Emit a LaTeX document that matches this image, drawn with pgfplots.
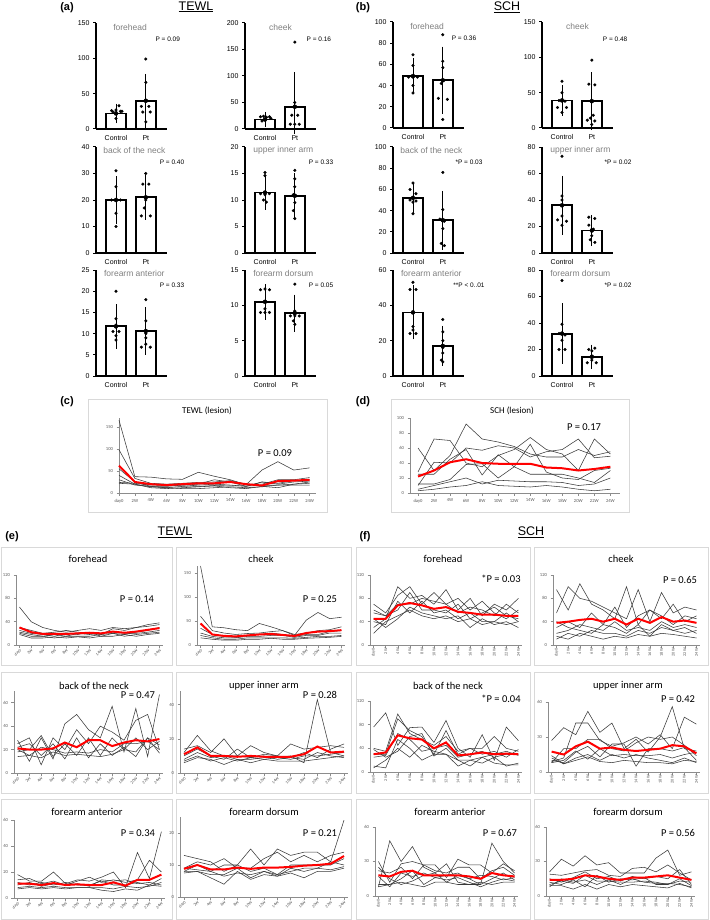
\documentclass[border=0pt]{standalone}
\usepackage{pgfplots}
\usepackage{pgfplotstable}
\pgfplotsset{compat=1.18}
\usepackage{fontspec}
\setmainfont{Liberation Sans}
\newfontfamily\calfont{Carlito}
\definecolor{axg}{HTML}{8C8C8C}
\definecolor{tkg}{HTML}{595959}
\definecolor{boxg}{HTML}{D9D9D9}
\definecolor{ttg}{HTML}{808080}
\definecolor{glc}{HTML}{3A3A3A}
\definecolor{rlc}{HTML}{FF0000}

% ---------- line-panel data (rows = series, transposed below) ----------
\pgfplotstableread{
name c0 c1 c2 c3 c4 c5 c6 c7 c8 c9 c10 c11 c12
s1 165 37 36 32 31 47 38 30 19 52 71 52 57
s2 98 33 22 20 22 24 25 28 20 20 30 30 35
s3 55 25 15 15 18 20 30 25 15 25 22 28 30
s4 30 18 15 12 15 18 20 18 15 25 20 25 27
s5 24 22 18 17 16 15 17 16 16 17 18 18 18
s6 22 20 14 12 10 10 12 14 12 14 18 20 22
s7 40 20 12 10 12 14 16 12 10 15 12 20 25
m 62 25 20 18 20 22 22 25 20 17 27 28 30
}\tmp
\pgfplotstabletranspose[colnames from=name]{\tC}{\tmp}
\pgfplotstableread{
name c0 c1 c2 c3 c4 c5 c6 c7 c8 c9 c10 c11 c12
s1 28 72 70 40 35 50 58 74 58 52 30 72 52
s2 60 30 50 92 72 68 62 52 48 48 58 50 55
s3 10 41 40 60 57 63 60 48 55 58 72 47 49
s4 25 25 45 58 24 51 35 65 28 20 18 30 33
s5 12 12 18 38 39 20 35 25 25 25 20 14 30
s6 5 10 15 20 12 17 16 15 15 14 10 12 20
s7 3 5 8 10 15 10 9 8 10 8 5 3 5
m 22 30 41 45 40 39 39 39 34 33 30 32 35
}\tmp
\pgfplotstabletranspose[colnames from=name]{\tD}{\tmp}
\pgfplotstableread{
name c0 c1 c2 c3 c4 c5 c6 c7 c8 c9 c10 c11 c12
s1 65 40 30 25 22 25 28 25 30 28 30 32 35
s2 30 25 20 22 25 22 20 18 28 25 30 35 38
s3 25 20 18 15 20 18 22 15 20 18 22 25 30
s4 22 18 15 18 15 20 18 20 22 20 20 22 25
s5 20 15 15 12 15 15 15 18 20 15 18 20 22
s6 18 12 12 14 12 14 12 15 15 18 15 18 20
m 30 22 19 19 19 20 21 20 23 21 23 26 29
}\tmp
\pgfplotstabletranspose[colnames from=name]{\tEfo}{\tmp}
\pgfplotstableread{
name c0 c1 c2 c3 c4 c5 c6 c7 c8 c9 c10 c11 c12
s1 165 38 36 32 30 45 38 30 20 52 68 55 58
s2 60 30 25 22 24 25 28 30 22 25 30 32 38
s3 35 22 18 16 20 22 25 22 18 22 22 28 30
s4 25 18 15 15 18 18 20 20 16 20 20 25 25
s5 20 15 12 12 15 15 15 15 14 16 18 18 20
s6 15 12 10 10 12 12 14 12 12 14 15 16 18
m 45 22 19 18 20 22 23 21 19 25 28 29 31
}\tmp
\pgfplotstabletranspose[colnames from=name]{\tEch}{\tmp}
\pgfplotstableread{
name c0 c1 c2 c3 c4 c5 c6 c7 c8 c9 c10 c11 c12
s1 28 10 30 12 42 50 37 30 57 18 55 14 67
s2 25 30 7 30 20 37 25 40 35 28 45 50 20
s3 18 20 32 14 25 15 30 15 30 20 30 20 27
s4 14 15 22 20 17 18 17 20 18 25 25 27 20
s5 20 15 13 18 15 16 15 14 16 20 18 30 17
s6 22 25 15 25 12 30 13 25 15 22 14 30 24
m 21 20 20 21 26 22 28 28 23 26 28 27 29
}\tmp
\pgfplotstabletranspose[colnames from=name]{\tEne}{\tmp}
\pgfplotstableread{
name c0 c1 c2 c3 c4 c5 c6 c7 c8 c9 c10 c11 c12
s1 12 22 13 10 10 9 8 9 10 6 43 12 10
s2 14 16 12 20 10 16 12 10 17 14 15 16 15
s3 10 14 10 8 14 9 11 10 9 12 9 14 17
s4 8 12 9 10 8 8 9 9 8 10 10 11 12
s5 6 9 8 5 8 6 8 7 7 7 8 9 10
s6 7 10 7 9 7 9 10 8 9 8 12 10 9
m 11 15 10 10 9.5 10 9.5 9.5 9.5 11 15.5 12 12.5
}\tmp
\pgfplotstabletranspose[colnames from=name]{\tEup}{\tmp}
\pgfplotstableread{
name c0 c1 c2 c3 c4 c5 c6 c7 c8 c9 c10 c11 c12
s1 18 13 13 20 11 14 13 16 20 8 35 15 51
s2 14 15 11 13 10 13 16 12 14 12 14 29 20
s3 12 10 12 10 12 10 10 13 10 10 12 10 15
s4 8 9 8 9 8 8 8 8 7 9 8 9 12
s5 7 8 7 8 7 8 8 6 5 7 6 10 9
s6 10 12 9 11 10 11 9 14 13 14 11 12 10
m 11 11 10 11.5 10 10.5 10 10 12 9.5 14 14 18
}\tmp
\pgfplotstabletranspose[colnames from=name]{\tEan}{\tmp}
\pgfplotstableread{
name c0 c1 c2 c3 c4 c5 c6 c7 c8 c9 c10 c11 c12
s1 13 12 11 8 10 15 10 15 13 14 14 11 24
s2 9 11 10 12 9 9 12 14 11 13 11 13 14
s3 8 10 8 10 10 8 9 7 10 10 10 10 12
s4 8 8 7 7 9 6 8 7 8 9 9 11 10
s5 7.5 8 6 4 8 5.5 7 6.5 7.5 6 8 8 9
s6 9 8.5 8 6.5 7.5 7 8 6.5 9 8 9 8.5 9.5
m 8.8 10 8.6 8.6 9.2 8.8 9.2 9.2 9.4 9.8 10 10.4 12.8
}\tmp
\pgfplotstabletranspose[colnames from=name]{\tEdo}{\tmp}
\pgfplotstableread{
name c0 c1 c2 c3 c4 c5 c6 c7 c8 c9 c10 c11 c12
s1 30 45 100 80 85 70 95 60 80 50 70 60 80
s2 70 55 85 100 70 90 70 80 60 75 55 45 60
s3 55 50 60 90 60 60 55 70 45 55 65 50 45
s4 40 35 75 55 75 55 60 45 55 40 40 55 40
s5 20 40 50 60 50 45 50 40 45 35 40 35 40
s6 45 30 45 65 55 50 45 50 30 45 35 40 30
s7 60 50 70 70 80 75 70 55 65 60 50 70 55
m 45 45 68 72 68 62 65 57 55 52 52 50 50
}\tmp
\pgfplotstabletranspose[colnames from=name]{\tFfo}{\tmp}
\pgfplotstableread{
name c0 c1 c2 c3 c4 c5 c6 c7 c8 c9 c10 c11 c12
s1 95 60 105 70 60 45 100 35 60 45 70 40 50
s2 55 100 80 75 65 55 45 95 40 90 55 65 60
s3 30 40 30 55 35 65 30 50 60 50 35 50 45
s4 20 25 35 30 25 40 25 30 25 40 30 35 30
s5 10 20 15 25 20 20 15 25 20 30 25 20 25
s6 40 30 25 20 35 30 20 35 15 35 25 30 20
s7 15 10 20 15 10 15 12 18 15 20 18 15 12
m 38 40 43 45 40 45 35 45 38 48 40 42 38
}\tmp
\pgfplotstabletranspose[colnames from=name]{\tFch}{\tmp}
\pgfplotstableread{
name c0 c1 c2 c3 c4 c5 c6 c7 c8 c9 c10 c11 c12
s1 76 100 45 75 76 50 87 40 25 63 20 76 53
s2 40 35 98 65 55 45 60 35 40 40 60 40 35
s3 30 30 90 70 60 30 70 30 40 30 35 25 38
s4 25 28 65 55 35 40 45 25 30 35 25 30 30
s5 10 7 55 40 20 30 30 20 20 15 25 10 15
s6 7 20 40 25 45 35 30 10 20 25 15 12 12
s7 38 25 35 60 65 27 40 20 10 25 30 35 28
m 30 33 62 57 55 40 50 28 30 33 30 31 30
}\tmp
\pgfplotstabletranspose[colnames from=name]{\tFne}{\tmp}
\pgfplotstableread{
name c0 c1 c2 c3 c4 c5 c6 c7 c8 c9 c10 c11 c12
s1 27 38 32 52 34 42 20 28 17 30 56 20 18
s2 9 12 42 42 27 22 25 30 24 32 20 47 41
s3 8 20 20 28 28 20 18 25 30 28 30 23 14
s4 10 8 17 22 13 24 24 5 20 20 18 21 10
s5 14 7 12 15 10 15 12 15 12 10 8 12 8
s6 8 10 18 11 20 14 15 14 14 15 12 15 17
s7 12 7 10 13 9 8 10 9 8 8 7 10 9
m 17.5 15 22 26 20 21 19 18 19 20 23 22 16
}\tmp
\pgfplotstabletranspose[colnames from=name]{\tFup}{\tmp}
\pgfplotstableread{
name c0 c1 c2 c3 c4 c5 c6 c7 c8 c9 c10 c11 c12
s1 8 48 30 43 25 20 28 12 10 10 46 30 20
s2 30 12 28 30 27 27 16 32 27 27 20 28 22
s3 22 20 25 15 27 22 20 25 25 15 22 25 18
s4 17 8 20 17 20 16 18 20 15 10 15 20 14
s5 10 10 15 22 10 16 14 16 12 8 12 15 13
s6 8 10 12 10 8 12 12 10 10 12 10 12 12
s7 25 15 10 13 18 20 12 18 15 18 17 14 16
m 18 17 21 22 18 18 18 18 17 15 20 18 17
}\tmp
\pgfplotstabletranspose[colnames from=name]{\tFan}{\tmp}
\pgfplotstableread{
name c0 c1 c2 c3 c4 c5 c6 c7 c8 c9 c10 c11 c12
s1 21 32 26 35 27 29 20 20 20 33 40 18 21
s2 19 18 20 22 23 18 17 24 25 21 27 20 14
s3 15 12 16 21 15 17 13 17 15 17 15 23 10
s4 10 13 11 18 13 13 12 12 13 12 10 13 12
s5 9 9 6 10 6 10 8 10 9 8 7 11 7
s6 12 10 14 8 18 12 15 14 16 10 10 15 9
s7 8 15 12 14 10 14 10 15 12 11 11 10 8
m 14 14 15 18 17 15 14 16 16 17 18 16 14
}\tmp
\pgfplotstabletranspose[colnames from=name]{\tFdo}{\tmp}

\pgfplotsset{
 bp/.style={scale only axis, anchor=south west, width=71pt, height=106pt,
   xmin=0.33, xmax=2.71, ymin=0, axis x line*=bottom, axis y line*=left,
   axis line style={line width=1.2pt, black}, xtick={1,2}, xticklabels={Control,Pt},
   xtick style={draw=none}, ytick style={line width=1pt, black},
   major tick length=3pt, tick align=outside,
   tick label style={font=\fontsize{7}{8}\selectfont},
   /pgf/number format/assume math mode=true, clip=false},
 barst/.style={ybar, bar width=20pt, fill=white, draw=black, line width=1.8pt},
 ebst/.style={only marks, mark=none, black, error bars/.cd, y dir=both, y explicit,
   error bar style={line width=0.7pt, black},
   error mark options={line width=0.7pt, black, mark size=5pt}},
 dots/.style={only marks, mark=*, mark size=1.35pt, black},
 lp/.style={scale only axis, anchor=south west, xmin=-0.3, xmax=12.3, ymin=0,
   axis x line*=bottom, axis y line*=left, axis line style={draw=axg, line width=0.6pt},
   xtick={0,...,12}, xticklabels={day0,2W,4W,6W,8W,10W,12W,14W,16W,18W,20W,22W,24W},
   tick label style={font=\calfont\fontsize{4.6}{5}\selectfont, text=tkg},
   tick style={draw=axg, line width=0.5pt}, major tick length=2.5pt, tick align=outside,
   /pgf/number format/assume math mode=true, clip=false},
 r45/.style={xticklabel style={rotate=45, anchor=north east, inner sep=0.5pt, font=\calfont\fontsize{4.2}{4.5}\selectfont}},
 r90/.style={xticklabel style={rotate=90, anchor=east, inner sep=0.5pt, font=\calfont\fontsize{4.2}{4.5}\selectfont}},
 gls/.style={glc, line width=0.55pt, mark=none},
 rls/.style={rlc, line width=2pt, mark=none},
}
\newcommand{\lines}[2]{\pgfplotsinvokeforeach{#2}{\addplot[gls] table[x expr=\coordindex,y=##1]{#1};}\addplot[rls] table[x expr=\coordindex,y=m]{#1};}

\tikzset{ttl/.style={text=ttg, font=\fontsize{8.5}{9}\selectfont},
 pv/.style={font=\fontsize{6.5}{7}\selectfont},
 lt/.style={font=\calfont\fontsize{10.5}{12}\selectfont},
 lpv/.style={font=\calfont\fontsize{10.5}{12}\selectfont},
 bx/.style={draw=boxg, line width=0.6pt},
 pl/.style={font=\bfseries\fontsize{11}{12}\selectfont},
 hd/.style={font=\fontsize{12.5}{14}\selectfont}}

\begin{document}
\begin{tikzpicture}
\useasboundingbox (0,0) rectangle (709pt,-920pt);
\fill[white] (0,0) rectangle (709pt,-920pt);

% ---------- headings ----------
\node[pl] at (67pt,-8pt) {(a)};
\node[hd] at (196pt,-7pt) {\underline{TEWL}};
\node[pl] at (363pt,-8pt) {(b)};
\node[hd] at (507pt,-7pt) {\underline{SCH}};
\node[pl] at (67pt,-402pt) {(c)};
\node[pl] at (363pt,-402pt) {(d)};
\node[pl] at (12pt,-537pt) {(e)};
\node[hd] at (175pt,-532pt) {\underline{TEWL}};
\node[pl] at (365pt,-537pt) {(f)};
\node[hd] at (531pt,-532pt) {\underline{SCH}};

% ================= (a) TEWL bars =================
\begin{axis}[bp, at={(96pt,-129pt)}, ymax=150, ytick={0,50,100,150}]
\addplot[barst] coordinates {(1,22) (2,40)};
\addplot[ebst] coordinates {(1,22) +- (0,7) (2,40) +- (0,31)};
\addplot[dots] coordinates {(1.1,33)(0.85,26)(1.0,27)(1.15,25)(0.9,24)(1.2,25)(1.0,15)};
\addplot[dots] coordinates {(2.0,99)(2.0,66)(1.85,32)(2.1,32)(1.9,24)(2.15,24)(2.0,10)};
\node[ttl] at (rel axis cs:0.48,0.96) {forehead};
\node[pv] at (rel axis cs:1.01,0.85) {P = 0.09};
\end{axis}
\begin{axis}[bp, at={(245pt,-129pt)}, ymax=200, ytick={0,50,100,150,200}]
\addplot[barst] coordinates {(1,18) (2,42)};
\addplot[ebst] coordinates {(1,18) +- (0,5) (2,42) += (0,56) -= (0,42)};
\addplot[dots] coordinates {(0.85,23)(0.95,24)(1.05,22)(1.15,23)(1.2,20)(0.9,15)(1.0,17)};
\addplot[dots] coordinates {(2.0,164)(2.0,50)(1.9,26)(2.1,26)(1.85,9)(2.0,9)(2.15,9)};
\node[ttl] at (rel axis cs:0.5,0.96) {cheek};
\node[pv] at (rel axis cs:1.04,0.85) {P = 0.16};
\end{axis}
\begin{axis}[bp, at={(96pt,-253pt)}, ymax=40, ytick={0,10,20,30,40}]
\addplot[barst] coordinates {(1,20) (2,21)};
\addplot[ebst] coordinates {(1,20) +- (0,7) (2,21) +- (0,6.5)};
\addplot[dots] coordinates {(1.0,31)(1.0,25)(0.85,20)(1.0,20)(1.15,20)(1.0,15)(1.0,10)};
\addplot[dots] coordinates {(2.0,30)(1.9,26)(2.1,26)(2.0,20)(1.95,17)(1.85,14)(2.15,14)};
\node[ttl] at (rel axis cs:0.54,0.97) {back of the neck};
\node[pv] at (rel axis cs:1.07,0.86) {P = 0.40};
\end{axis}
\begin{axis}[bp, at={(245pt,-253pt)}, ymax=20, ytick={0,5,10,15,20}]
\addplot[barst] coordinates {(1,11.4) (2,10.8)};
\addplot[ebst] coordinates {(1,11.4) +- (0,2.3) (2,10.8) +- (0,3.3)};
\addplot[dots] coordinates {(1.0,15.2)(1.0,14.6)(0.85,11.2)(1.0,11)(1.15,11.2)(0.95,10)(1.05,9.6)};
\addplot[dots] coordinates {(2.0,15.6)(2.0,14)(2.0,12.5)(1.95,11)(2.0,9.5)(1.95,8)(2.0,6.5)};
\node[ttl] at (rel axis cs:0.54,0.97) {upper inner arm};
\node[pv] at (rel axis cs:1.07,0.86) {P = 0.33};
\end{axis}
\begin{axis}[bp, at={(96pt,-376pt)}, ymax=25, ytick={0,5,10,15,20,25}]
\addplot[barst] coordinates {(1,11.7) (2,10.6)};
\addplot[ebst] coordinates {(1,11.7) +- (0,4.1) (2,10.6) +- (0,4.4)};
\addplot[dots] coordinates {(1.0,20)(1.0,13.5)(1.0,12)(0.9,10.5)(1.1,10.5)(1.0,9.5)(1.0,8.5)};
\addplot[dots] coordinates {(2.0,18)(2.0,13)(2.0,10)(2.0,9)(2.0,7.5)(1.85,6.8)(2.15,6.8)};
\node[ttl] at (rel axis cs:0.54,0.97) {forearm anterior};
\node[pv] at (rel axis cs:1.07,0.86) {P = 0.33};
\end{axis}
\begin{axis}[bp, at={(245pt,-376pt)}, ymax=15, ytick={0,5,10,15}]
\addplot[barst] coordinates {(1,10.5) (2,8.9)};
\addplot[ebst] coordinates {(1,10.5) +- (0,1.8) (2,8.9) +- (0,1.9)};
\addplot[dots] coordinates {(0.85,12.2)(1.0,12.3)(1.15,12.2)(0.85,9)(1.0,9.5)(1.15,9)(1.0,9)};
\addplot[dots] coordinates {(2.0,13)(2.0,9.2)(1.85,8.5)(2.0,8.5)(2.15,8.5)(1.95,7.8)(2.0,7.3)};
\node[ttl] at (rel axis cs:0.54,0.97) {forearm dorsum};
\node[pv] at (rel axis cs:1.07,0.86) {P = 0.05};
\end{axis}

% ================= (b) SCH bars =================
\begin{axis}[bp, at={(393pt,-128pt)}, ymax=100, ytick={0,20,40,60,80,100}]
\addplot[barst] coordinates {(1,49) (2,45)};
\addplot[ebst] coordinates {(1,49) +- (0,12) (2,45) +- (0,27)};
\addplot[dots] coordinates {(1.0,69)(1.0,59)(0.85,48)(1.0,48)(1.15,48)(1.0,40)(1.0,33)};
\addplot[dots] coordinates {(2.0,88)(2.0,63)(2.0,57)(1.95,42)(1.85,28)(2.15,27)(2.0,8)};
\node[ttl] at (rel axis cs:0.48,0.96) {forehead};
\node[pv] at (rel axis cs:1.0,0.85) {P = 0.36};
\end{axis}
\begin{axis}[bp, at={(542pt,-128pt)}, ymax=150, ytick={0,50,100,150}]
\addplot[barst] coordinates {(1,39) (2,38)};
\addplot[ebst] coordinates {(1,39) +- (0,14.5) (2,38) +- (0,34)};
\addplot[dots] coordinates {(1.0,66)(1.0,50)(0.9,39)(1.1,38)(0.85,29)(1.15,29)(1.0,22)};
\addplot[dots] coordinates {(2.0,96)(1.9,62)(2.1,61)(2.05,18)(1.95,14)(1.85,11)(2.1,10)(2.0,5)};
\node[ttl] at (rel axis cs:0.5,0.96) {cheek};
\node[pv] at (rel axis cs:1.03,0.84) {P = 0.48};
\end{axis}
\begin{axis}[bp, at={(393pt,-253pt)}, ymax=100, ytick={0,20,40,60,80,100}]
\addplot[barst] coordinates {(1,52) (2,31)};
\addplot[ebst] coordinates {(1,52) +- (0,9.5) (2,31) +- (0,23)};
\addplot[dots] coordinates {(1.0,66)(0.9,60)(1.1,56)(0.9,50)(1.1,49)(1.0,48)(1.0,37)};
\addplot[dots] coordinates {(2.0,76)(2.0,41)(1.9,32)(2.05,30)(2.0,23)(1.95,9)(2.05,7)};
\node[ttl] at (rel axis cs:0.54,0.97) {back of the neck};
\node[pv] at (rel axis cs:1.07,0.86) {*P = 0.03};
\end{axis}
\begin{axis}[bp, at={(542pt,-253pt)}, ymax=80, ytick={0,20,40,60,80}]
\addplot[barst] coordinates {(1,36) (2,17)};
\addplot[ebst] coordinates {(1,36) +- (0,18.5) (2,17) +- (0,8)};
\addplot[dots] coordinates {(1.0,73)(1.0,43)(1.0,40)(1.0,28)(0.85,25)(1.15,24)(1.0,21)};
\addplot[dots] coordinates {(1.9,27)(2.1,26)(1.9,21)(2.05,18)(2.0,13)(1.95,10)(2.1,8)};
\node[ttl] at (rel axis cs:0.54,0.97) {upper inner arm};
\node[pv] at (rel axis cs:1.07,0.86) {*P = 0.02};
\end{axis}
\begin{axis}[bp, at={(393pt,-376pt)}, ymax=60, ytick={0,20,40,60}]
\addplot[barst] coordinates {(1,36) (2,17)};
\addplot[ebst] coordinates {(1,36) +- (0,12.5) (2,17) +- (0,8.5)};
\addplot[dots] coordinates {(1.0,53)(0.9,49)(1.1,49)(1.0,28)(1.0,26)(0.9,24)(1.1,24)};
\addplot[dots] coordinates {(2.0,32)(2.0,25)(2.0,20)(2.0,16)(2.0,13)(1.95,9)(2.0,8)};
\node[ttl] at (rel axis cs:0.54,0.97) {forearm anterior};
\node[pv] at (rel axis cs:1.07,0.86) {**P < 0..01};
\end{axis}
\begin{axis}[bp, at={(542pt,-376pt)}, ymax=80, ytick={0,20,40,60,80}]
\addplot[barst] coordinates {(1,32) (2,14.5)};
\addplot[ebst] coordinates {(1,32) +- (0,19) (2,14.5) +- (0,5.5)};
\addplot[dots] coordinates {(1.0,72)(1.0,39)(0.9,32)(1.1,31)(1.0,27)(0.9,20)(1.1,20)};
\addplot[dots] coordinates {(1.9,20)(2.1,21)(2.0,19)(2.0,15)(1.85,10)(2.15,10)(2.0,12)};
\node[ttl] at (rel axis cs:0.54,0.97) {forearm dorsum};
\node[pv] at (rel axis cs:1.07,0.86) {*P = 0.02};
\end{axis}

% ================= (c) (d) lesion =================
\draw[bx] (88pt,-399pt) rectangle (327pt,-512pt);
\draw[bx] (391pt,-399pt) rectangle (629pt,-512pt);
\node[font=\calfont\fontsize{9}{10}\selectfont] at (207pt,-411pt) {TEWL (lesion)};
\node[font=\calfont\fontsize{9}{10}\selectfont] at (512pt,-411pt) {SCH (lesion)};
\begin{axis}[lp, at={(119pt,-493pt)}, width=197pt, height=75pt, xmin=0, xmax=12.4, ymax=170, ytick={0,50,100,150}]
\lines{\tC}{s1,s2,s3,s4,s5,s6,s7}
\end{axis}
\node[lpv] at (275pt,-453pt) {P = 0.09};
\begin{axis}[lp, at={(410pt,-493pt)}, width=210pt, height=75pt, xmin=-0.5, xmax=12.6, ymax=100, ytick={0,20,40,60,80,100}]
\lines{\tD}{s1,s2,s3,s4,s5,s6,s7}
\end{axis}
\node[lpv] at (584pt,-427pt) {P = 0.17};

% ================= (e)(f) boxes =================
\foreach \xa/\xb in {1/172,176/351,356/530,534/708}{
  \draw[bx] (\xa pt,-547pt) rectangle (\xb pt,-665pt);
  \draw[bx] (\xa pt,-672pt) rectangle (\xb pt,-793pt);
  \draw[bx] (\xa pt,-799pt) rectangle (\xb pt,-919pt);
}

% row 1
\begin{axis}[lp, r45, at={(16pt,-645pt)}, width=147pt, height=70pt, ymax=120, ytick={0,40,80,120}]
\lines{\tEfo}{s1,s2,s3,s4,s5,s6}
\end{axis}
\begin{axis}[lp, r45, at={(197pt,-645pt)}, width=148pt, height=79pt, ymax=165, ytick={0,50,100,150}]
\lines{\tEch}{s1,s2,s3,s4,s5,s6}
\end{axis}
\begin{axis}[lp, r90, at={(370pt,-645pt)}, width=152pt, height=70pt, ymax=120, ytick={0,40,80,120}]
\lines{\tFfo}{s1,s2,s3,s4,s5,s6,s7}
\end{axis}
\begin{axis}[lp, r90, at={(553pt,-645pt)}, width=147pt, height=70pt, ymax=120, ytick={0,40,80,120}]
\lines{\tFch}{s1,s2,s3,s4,s5,s6,s7}
\end{axis}
% row 2
\begin{axis}[lp, r45, at={(14pt,-773pt)}, width=149pt, height=82pt, ymax=70, ytick={0,20,40,60}]
\lines{\tEne}{s1,s2,s3,s4,s5,s6}
\end{axis}
\begin{axis}[lp, r45, at={(180pt,-773pt)}, width=168pt, height=82pt, ymax=48, ytick={0,20,40}]
\lines{\tEup}{s1,s2,s3,s4,s5,s6}
\end{axis}
\begin{axis}[lp, r90, at={(370pt,-772pt)}, width=152pt, height=71pt, ymax=120, ytick={0,40,80,120}]
\lines{\tFne}{s1,s2,s3,s4,s5,s6,s7}
\end{axis}
\begin{axis}[lp, r90, at={(548pt,-772pt)}, width=152pt, height=70pt, ymax=60, ytick={0,30,60}]
\lines{\tFup}{s1,s2,s3,s4,s5,s6,s7}
\end{axis}
% row 3
\begin{axis}[lp, r45, at={(14pt,-898pt)}, width=151pt, height=78pt, ymax=60, ytick={0,20,40,60}]
\lines{\tEan}{s1,s2,s3,s4,s5,s6}
\end{axis}
\begin{axis}[lp, r45, at={(180pt,-897pt)}, width=168pt, height=80pt, ymax=25, ytick={0,10,20}]
\lines{\tEdo}{s1,s2,s3,s4,s5,s6}
\end{axis}
\begin{axis}[lp, r90, at={(375pt,-896pt)}, width=143pt, height=69pt, ymax=60, ytick={0,30,60}]
\lines{\tFan}{s1,s2,s3,s4,s5,s6,s7}
\end{axis}
\begin{axis}[lp, r90, at={(546pt,-896pt)}, width=149pt, height=69pt, ymax=60, ytick={0,30,60}]
\lines{\tFdo}{s1,s2,s3,s4,s5,s6,s7}
\end{axis}

% titles and P values of (e)(f)
\node[lt] at (88pt,-559pt) {forehead};
\node[lt] at (261pt,-559pt) {cheek};
\node[lt] at (443pt,-559pt) {forehead};
\node[lt] at (621pt,-559pt) {cheek};
\node[lt] at (94pt,-686pt) {back of the neck};
\node[lt] at (264pt,-686pt) {upper inner arm};
\node[lt] at (448pt,-686pt) {back of the neck};
\node[lt] at (628pt,-686pt) {upper inner arm};
\node[lt] at (87pt,-812pt) {forearm anterior};
\node[lt] at (264pt,-812pt) {forearm dorsum};
\node[lt] at (450pt,-812pt) {forearm anterior};
\node[lt] at (628pt,-812pt) {forearm dorsum};
\node[lpv] at (137pt,-599pt) {P = 0.14};
\node[lpv] at (320pt,-599pt) {P = 0.25};
\node[lpv] at (501pt,-579pt) {*P = 0.03};
\node[lpv] at (680pt,-580pt) {P = 0.65};
\node[lpv] at (138pt,-695pt) {P = 0.47};
\node[lpv] at (320pt,-695pt) {P = 0.28};
\node[lpv] at (501pt,-699pt) {*P = 0.04};
\node[lpv] at (678pt,-699pt) {P = 0.42};
\node[lpv] at (138pt,-833pt) {P = 0.34};
\node[lpv] at (320pt,-833pt) {P = 0.21};
\node[lpv] at (500pt,-833pt) {P = 0.67};
\node[lpv] at (678pt,-833pt) {P = 0.56};
\end{tikzpicture}
\end{document}
